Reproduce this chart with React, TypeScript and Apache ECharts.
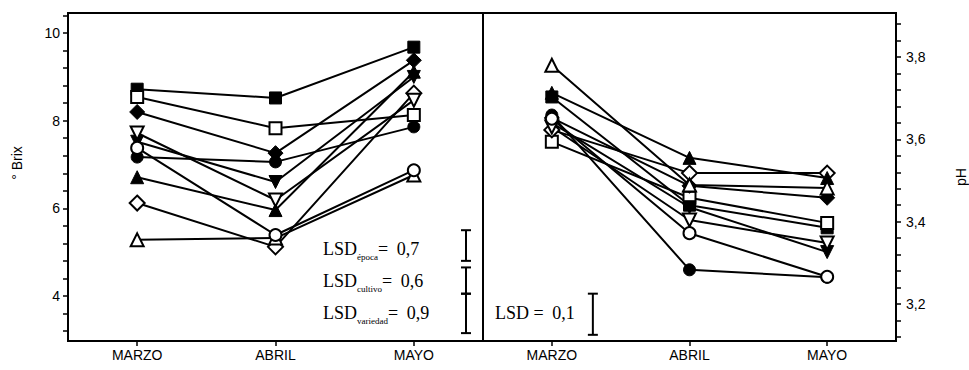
import React, { useEffect, useRef } from "react";
import * as echarts from "echarts";

const months = ["MARZO", "ABRIL", "MAYO"];

// °Brix (left panel)
const brixFilledSquare = [8.72, 8.52, 9.68];
const brixOpenSquare = [8.54, 7.83, 8.13];
const brixFilledDiamond = [8.2, 7.26, 9.38];
const brixOpenDiamond = [6.12, 5.12, 8.63];
const brixFilledTriangle = [6.71, 5.96, 9.12];
const brixOpenTriangle = [5.28, 5.32, 6.76];
const brixFilledInvTriangle = [7.52, 6.6, 9.0];
const brixOpenInvTriangle = [7.72, 6.19, 8.47];
const brixFilledCircle = [7.17, 7.06, 7.86];
const brixOpenCircle = [7.38, 5.39, 6.87];

// pH (right panel)
const phFilledSquare = [3.703, 3.44, 3.385];
const phOpenSquare = [3.594, 3.458, 3.397];
const phFilledDiamond = [3.652, 3.487, 3.458];
const phOpenDiamond = [3.623, 3.518, 3.518];
const phFilledTriangle = [3.713, 3.555, 3.506];
const phOpenTriangle = [3.78, 3.489, 3.482];
const phFilledInvTriangle = [3.64, 3.435, 3.326];
const phOpenInvTriangle = [3.63, 3.404, 3.348];
const phFilledCircle = [3.659, 3.283, 3.265];
const phOpenCircle = [3.65, 3.372, 3.266];

// axis ticks
const brixTicks = [3.2, 3.6, 4, 4.4, 4.8, 5.2, 5.6, 6, 6.4, 6.8, 7.2, 7.6, 8, 8.4, 8.8, 9.2, 9.6, 10, 10.4];
const brixLabels = [4, 6, 8, 10];
const phTicks = [3.12, 3.16, 3.2, 3.24, 3.28, 3.32, 3.36, 3.4, 3.44, 3.48, 3.52, 3.56, 3.6, 3.64, 3.68, 3.72, 3.76, 3.8, 3.84, 3.88];
const phLabels = [3.2, 3.4, 3.6, 3.8];

// LSD bars: [top, bottom]
const lsdBrixNames = ["época", "cultivo", "variedad"];
const lsdBrixValues = ["0,7", "0,6", "0,9"];
const lsdBrixBars = [
  [5.5, 4.8],
  [4.65, 4.05],
  [4.05, 3.15],
];
const lsdPhValue = "0,1";
const lsdPhBars = [[3.225, 3.125]];

type Marker = { symbol: string; rotate: number; size: number; filled: boolean };
const markers: Marker[] = [
  { symbol: "rect", rotate: 0, size: 12, filled: true },
  { symbol: "rect", rotate: 0, size: 12, filled: false },
  { symbol: "diamond", rotate: 0, size: 15, filled: true },
  { symbol: "diamond", rotate: 0, size: 15, filled: false },
  { symbol: "triangle", rotate: 0, size: 13, filled: true },
  { symbol: "triangle", rotate: 0, size: 13, filled: false },
  { symbol: "triangle", rotate: 180, size: 13, filled: true },
  { symbol: "triangle", rotate: 180, size: 13, filled: false },
  { symbol: "circle", rotate: 0, size: 12, filled: true },
  { symbol: "circle", rotate: 0, size: 12, filled: false },
];

const brixSeries = [
  brixFilledSquare, brixOpenSquare, brixFilledDiamond, brixOpenDiamond, brixFilledTriangle,
  brixOpenTriangle, brixFilledInvTriangle, brixOpenInvTriangle, brixFilledCircle, brixOpenCircle,
];
const phSeries = [
  phFilledSquare, phOpenSquare, phFilledDiamond, phOpenDiamond, phFilledTriangle,
  phOpenTriangle, phFilledInvTriangle, phOpenInvTriangle, phFilledCircle, phOpenCircle,
];

const FONT = "Liberation Sans";
const SERIF = "Liberation Serif";

function lineSeries(data: number[], m: Marker, idx: number, axis: number) {
  return {
    type: "line",
    name: "s" + axis + "_" + idx,
    xAxisIndex: axis,
    yAxisIndex: axis,
    data,
    symbol: m.symbol,
    symbolSize: m.size,
    symbolRotate: m.rotate,
    showAllSymbol: true,
    lineStyle: { color: "#000", width: 2 },
    itemStyle: m.filled
      ? { color: "#000", borderColor: "#000", borderWidth: 1 }
      : { color: "#fff", borderColor: "#000", borderWidth: 2 },
    z: 3,
  };
}

function barSeries(bars: number[][], axis: number, frac: number) {
  return {
    type: "custom",
    xAxisIndex: axis,
    yAxisIndex: axis,
    data: bars.map((b) => [0, b[0], b[1]]),
    encode: { x: 0, y: [1, 2] },
    z: 4,
    renderItem: (params: any, api: any) => {
      const yt = api.coord([0, api.value(1)])[1];
      const yb = api.coord([0, api.value(2)])[1];
      const x = params.coordSys.x + params.coordSys.width * frac;
      const st = { stroke: "#000", lineWidth: 2 };
      return {
        type: "group",
        children: [
          { type: "line", shape: { x1: x, y1: yt, x2: x, y2: yb }, style: st },
          { type: "line", shape: { x1: x - 5, y1: yt, x2: x + 5, y2: yt }, style: st },
          { type: "line", shape: { x1: x - 5, y1: yb, x2: x + 5, y2: yb }, style: st },
        ],
      };
    },
  };
}

export default function App() {
  const ref = useRef<HTMLDivElement>(null);
  useEffect(() => {
    document.body.style.margin = "0";
    if (!ref.current) return;
    const chart = echarts.init(ref.current, null, { renderer: "svg" });
    const axisLabelStyle = { color: "#000", fontFamily: FONT, fontSize: 14 };
    const rich = {
      big: { fontFamily: SERIF, fontSize: 18, fill: "#000", lineHeight: 22 },
      gap: { fontFamily: SERIF, fontSize: 18, fill: "#000", lineHeight: 22, padding: [0, 0, 0, 4] },
      sub: { fontFamily: SERIF, fontSize: 9, fill: "#000", lineHeight: 22, verticalAlign: "bottom", padding: [0, 0, -1, 0] },
    };
    const lsdY = [249, 281, 313];
    const graphics: any[] = lsdBrixNames.map((n, i) => ({
      type: "text",
      x: 323,
      y: lsdY[i],
      style: {
        text: "{big|LSD}{sub|" + n + "}{big|= }{gap|" + lsdBrixValues[i] + "}",
        rich,
        verticalAlign: "middle",
        fill: "#000",
      },
    }));
    graphics.push({
      type: "text",
      x: 495,
      y: 313,
      style: {
        text: "{big|LSD = }{gap|" + lsdPhValue + "}",
        rich,
        verticalAlign: "middle",
        fill: "#000",
      },
    });

    const xAxisBase = {
      type: "category",
      data: months,
      boundaryGap: true,
      axisLine: { show: false, lineStyle: { color: "#000" } },
      axisTick: { show: true, alignWithLabel: true, length: 5, lineStyle: { color: "#000", width: 1.5 } },
      axisLabel: { ...axisLabelStyle, margin: 7 },
      splitLine: { show: false },
    };

    chart.setOption({
      animation: false,
      backgroundColor: "#fff",
      grid: [
        { left: 68, top: 13, width: 415, height: 328, show: true, borderColor: "#000", borderWidth: 2, backgroundColor: "transparent" },
        { left: 483, top: 13, width: 414, height: 328, show: true, borderColor: "#000", borderWidth: 2, backgroundColor: "transparent" },
      ],
      xAxis: [
        { ...xAxisBase, gridIndex: 0 },
        { ...xAxisBase, gridIndex: 1 },
      ],
      yAxis: [
        {
          type: "value",
          gridIndex: 0,
          min: 2.97,
          max: 10.46,
          position: "left",
          axisLine: { show: false, lineStyle: { color: "#000" } },
          splitLine: { show: false },
          axisTick: { show: true, customValues: brixTicks, length: 5, lineStyle: { color: "#000", width: 1.5 } },
          axisLabel: { ...axisLabelStyle, customValues: brixLabels, margin: 8 },
          name: "° Brix",
          nameLocation: "middle",
          nameGap: 44,
          nameRotate: 90,
          nameTextStyle: { color: "#000", fontFamily: FONT, fontSize: 14, padding: [0, 0, 0, 28] },
        },
        {
          type: "value",
          gridIndex: 1,
          min: 3.11,
          max: 3.907,
          position: "right",
          axisLine: { show: false, lineStyle: { color: "#000" } },
          splitLine: { show: false },
          axisTick: { show: true, customValues: phTicks, length: 5, lineStyle: { color: "#000", width: 1.5 } },
          axisLabel: {
            ...axisLabelStyle,
            customValues: phLabels,
            margin: 10,
            formatter: (v: number) => v.toFixed(1).replace(".", ","),
          },
          name: "pH",
          nameLocation: "middle",
          nameGap: 58,
          nameRotate: 90,
          nameTextStyle: { color: "#000", fontFamily: FONT, fontSize: 14 },
        },
      ],
      series: [
        ...brixSeries.map((d, i) => lineSeries(d, markers[i], i, 0)),
        ...phSeries.map((d, i) => lineSeries(d, markers[i], i, 1)),
        barSeries(lsdBrixBars, 0, 0.959),
        barSeries(lsdPhBars, 1, 0.266),
      ],
      graphic: graphics,
    });
    return () => chart.dispose();
  }, []);
  return <div ref={ref} style={{ width: 969, height: 370 }} />;
}
